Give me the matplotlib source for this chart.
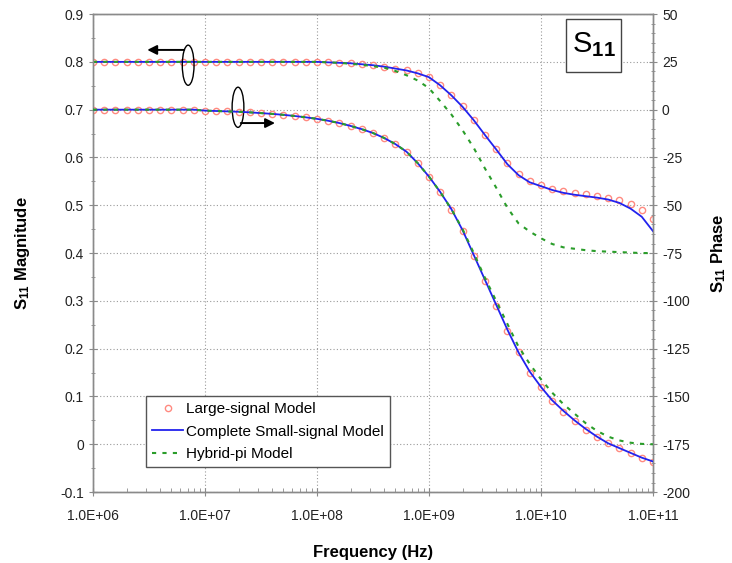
import numpy as np
import matplotlib
matplotlib.use("Agg")
import matplotlib.pyplot as plt
from matplotlib.patches import Ellipse, Rectangle
from matplotlib.ticker import MultipleLocator, LogLocator, FuncFormatter, NullFormatter

plt.rcParams["font.family"] = ["Liberation Sans", "DejaVu Sans"]
plt.rcParams["mathtext.fontset"] = "custom"
plt.rcParams["mathtext.rm"] = "Liberation Sans"
plt.rcParams["mathtext.bf"] = "Liberation Sans:bold"
plt.rcParams["axes.unicode_minus"] = False

# frequency sweep, log10(Hz), 10 points per decade
log_freq = [6.0, 6.1, 6.2, 6.3, 6.4, 6.5, 6.6, 6.7, 6.8, 6.9,
            7.0, 7.1, 7.2, 7.3, 7.4, 7.5, 7.6, 7.7, 7.8, 7.9,
            8.0, 8.1, 8.2, 8.3, 8.4, 8.5, 8.6, 8.7, 8.8, 8.9,
            9.0, 9.1, 9.2, 9.3, 9.4, 9.5, 9.6, 9.7, 9.8, 9.9,
            10.0, 10.1, 10.2, 10.3, 10.4, 10.5, 10.6, 10.7, 10.8, 10.9,
            11.0]

# S11 magnitude
mag_large = [0.800] * 20 + [
    0.800, 0.799, 0.798, 0.797, 0.795, 0.793, 0.790, 0.786, 0.782, 0.776,
    0.768, 0.752, 0.731, 0.707, 0.679, 0.648, 0.618, 0.588, 0.565, 0.550,
    0.542, 0.535, 0.529, 0.525, 0.523, 0.520, 0.516, 0.510, 0.502, 0.490,
    0.471]
mag_small = [0.800] * 20 + [
    0.800, 0.799, 0.798, 0.797, 0.795, 0.793, 0.790, 0.786, 0.782, 0.776,
    0.768, 0.751, 0.730, 0.706, 0.678, 0.647, 0.617, 0.586, 0.563, 0.548,
    0.540, 0.532, 0.526, 0.522, 0.519, 0.516, 0.512, 0.505, 0.493, 0.476,
    0.446]
mag_hybrid = [0.800] * 20 + [
    0.800, 0.799, 0.798, 0.796, 0.794, 0.791, 0.788, 0.781, 0.772, 0.761,
    0.745, 0.718, 0.690, 0.657, 0.620, 0.577, 0.537, 0.495, 0.462, 0.445,
    0.431, 0.419, 0.412, 0.409, 0.406, 0.404, 0.403, 0.402, 0.401, 0.400,
    0.400]

# S11 phase (deg)
ph_large = [0.0] * 10 + [
    -0.5, -0.7, -0.9, -1.1, -1.4, -1.8, -2.2, -2.7, -3.3, -4.0,
    -4.8, -5.8, -7.0, -8.5, -10.2, -12.2, -14.8, -18.0, -22.0, -28.0,
    -35.0, -43.0, -52.5, -63.5, -76.5, -89.5, -102.5, -115.5, -127.0, -137.5,
    -145.0, -152.5, -158.0, -163.0, -167.5, -171.0, -174.5, -177.0, -179.5, -182.0,
    -184.5]
ph_small = [0.0] * 10 + [
    -0.5, -0.7, -0.9, -1.1, -1.4, -1.8, -2.2, -2.7, -3.3, -4.0,
    -4.8, -5.8, -7.0, -8.5, -10.2, -12.2, -14.8, -18.0, -22.0, -28.0,
    -35.0, -43.0, -52.0, -63.0, -76.0, -89.0, -102.0, -115.0, -127.0, -137.0,
    -145.0, -152.0, -157.5, -162.5, -167.0, -171.0, -174.5, -177.0, -179.5, -182.0,
    -184.0]
ph_hybrid = [0.0] * 10 + [
    -0.5, -0.7, -0.9, -1.1, -1.4, -1.8, -2.2, -2.7, -3.3, -4.0,
    -4.8, -5.8, -7.0, -8.5, -10.2, -12.2, -14.8, -18.0, -22.0, -28.0,
    -35.0, -43.0, -52.0, -62.5, -75.0, -88.0, -100.0, -112.0, -124.0, -133.0,
    -141.0, -148.0, -154.0, -159.0, -164.0, -168.0, -171.0, -173.0, -174.2, -174.8,
    -175.0]

freq = 10.0 ** np.array(log_freq)

RED = "#ff8a80"
BLUE = "#2222ee"
GREEN = "#2a9d2a"
GRID = "#9a9a9a"
SPINE = "#8a8a8a"

fig = plt.figure(figsize=(7.32, 5.63), dpi=100)
ax = fig.add_axes([0.127, 0.126, 0.765, 0.849])
ax2 = ax.twinx()

circ_kw = dict(linestyle="none", marker="o", markersize=4.5, markerfacecolor="none",
               markeredgecolor=RED, markeredgewidth=1.0, zorder=2)
blue_kw = dict(color=BLUE, linewidth=1.3, zorder=3)
green_kw = dict(color=GREEN, linewidth=1.5, linestyle=(0, (2, 3)), zorder=4)

ax.plot(freq, mag_large, **circ_kw)
ax.plot(freq, mag_small, **blue_kw)
ax.plot(freq, mag_hybrid, **green_kw)

h1, = ax2.plot(freq, ph_large, label="Large-signal Model", **circ_kw)
h2, = ax2.plot(freq, ph_small, label="Complete Small-signal Model", **blue_kw)
h3, = ax2.plot(freq, ph_hybrid, label="Hybrid-pi Model", **green_kw)

ax.set_xscale("log")
ax.set_xlim(1e6, 1e11)
ax.set_ylim(-0.1, 0.9)
ax2.set_ylim(-200, 50)

ax.yaxis.set_major_locator(MultipleLocator(0.1))
ax.yaxis.set_minor_locator(MultipleLocator(0.05))
ax.yaxis.set_major_formatter(FuncFormatter(lambda v, p: "0" if abs(v) < 1e-9 else f"{v:.1f}"))
ax2.yaxis.set_major_locator(MultipleLocator(25))
ax2.yaxis.set_minor_locator(MultipleLocator(5))
ax.xaxis.set_major_locator(LogLocator(base=10, numticks=10))
ax.xaxis.set_minor_locator(LogLocator(base=10, subs=np.arange(2, 10), numticks=20))
ax.xaxis.set_major_formatter(FuncFormatter(lambda v, p: f"{v:.1E}"))
ax.xaxis.set_minor_formatter(NullFormatter())

ax.grid(True, which="major", color=GRID, linestyle=(0, (1, 2)), linewidth=0.8)
ax.set_axisbelow(True)

for a in (ax, ax2):
    for s in a.spines.values():
        s.set_color(SPINE)
        s.set_linewidth(1.0)
ax.tick_params(axis="y", which="major", direction="inout", length=6, color=SPINE,
               labelsize=10, labelcolor="#222222")
ax.tick_params(axis="y", which="minor", direction="inout", length=3, color=SPINE)
ax.tick_params(axis="x", which="major", direction="inout", length=6, color=SPINE,
               labelsize=10, labelcolor="#222222", pad=9)
ax.tick_params(axis="x", which="minor", direction="in", length=3, color=SPINE)
ax2.tick_params(axis="y", which="major", direction="inout", length=6, color=SPINE,
                labelsize=10, labelcolor="#222222")
ax2.tick_params(axis="y", which="minor", direction="inout", length=3, color=SPINE)

ax.set_xlabel("Frequency (Hz)", fontsize=12, fontweight="bold", labelpad=16)
ax.set_ylabel(r"$\mathbf{S_{11}}$ Magnitude", fontsize=12, fontweight="bold", labelpad=20)
ax2.set_ylabel(r"$\mathbf{S_{11}}$ Phase", fontsize=12, fontweight="bold", labelpad=14)

# S11 tag in a framed box
ax2.add_patch(Rectangle((0.845, 0.879), 0.098, 0.111, transform=ax.transAxes,
                        facecolor="white", edgecolor="#444444", linewidth=1.0, zorder=7))
ax2.text(0.894, 0.936, r"$\mathrm{S}_{\mathbf{11}}$", transform=ax.transAxes, fontsize=21,
         ha="center", va="center", zorder=8)

# ellipses with arrows marking which axis each curve belongs to
for cx, cy in [(0.170, 0.893), (0.259, 0.805)]:
    ax.add_patch(Ellipse((cx, cy), 0.021, 0.084, transform=ax.transAxes, fill=False,
                         edgecolor="black", linewidth=1.0, zorder=6))
arrow = dict(arrowstyle="-|>", color="black", linewidth=1.4, mutation_scale=14)
ax.annotate("", xy=(0.092, 0.925), xytext=(0.168, 0.925), xycoords="axes fraction",
            arrowprops=arrow, zorder=6)
ax.annotate("", xy=(0.330, 0.772), xytext=(0.259, 0.772), xycoords="axes fraction",
            arrowprops=arrow, zorder=6)

leg = ax2.legend(handles=[h1, h2, h3], loc="lower left", bbox_to_anchor=(0.095, 0.052),
                 borderaxespad=0, fontsize=11, frameon=True, fancybox=False,
                 edgecolor="#555555", framealpha=1, handlelength=2.0, handletextpad=0.2,
                 labelspacing=0.55, borderpad=0.4)
leg.get_frame().set_linewidth(1.0)

fig.savefig("out.png", dpi=100)
plt.close(fig)
